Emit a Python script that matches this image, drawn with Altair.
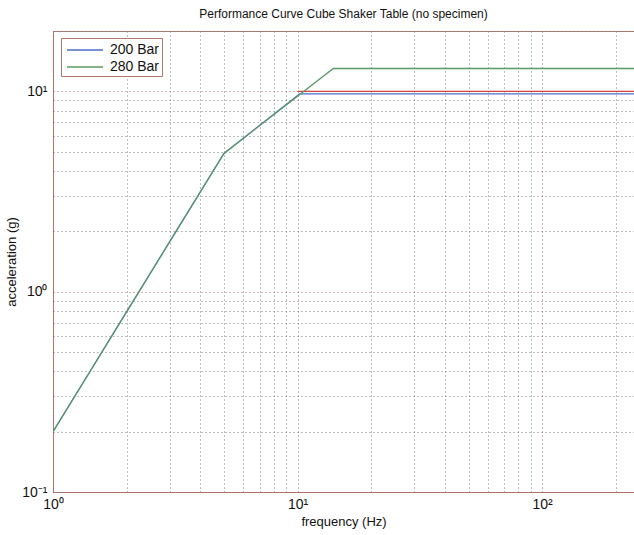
import altair as alt
import pandas as pd

# Data
freq_200 = [1, 5, 10.2, 237.5]
acc_200 = [0.2, 4.9, 9.7, 9.7]
freq_280 = [1, 5, 14, 237.5]
acc_280 = [0.2, 4.9, 13.0, 13.0]
ref_freq = [10, 237.5]
ref_acc = [10, 10]

series_names = ["200 Bar", "280 Bar"]
colors = ["#4a6ec8", "#5a9a62"]

x_grid = [1, 2, 3, 4, 5, 6, 7, 8, 9, 10, 20, 30, 40, 50, 60, 70, 80, 90, 100, 200]
y_grid = [0.1, 0.2, 0.3, 0.4, 0.5, 0.6, 0.7, 0.8, 0.9, 1, 2, 3, 4, 5, 6, 7, 8, 9, 10, 20]

df = pd.DataFrame({
    "freq": freq_200 + freq_280,
    "acc": acc_200 + acc_280,
    "series": [series_names[0]] * len(freq_200) + [series_names[1]] * len(freq_280),
})
ref_df = pd.DataFrame({"freq": ref_freq, "acc": ref_acc})

FONT = "Liberation Sans"
major_test = "abs(log(datum.value)/LN10 - round(log(datum.value)/LN10)) < 0.000001"
label_expr = ("datum.value == 0.1 ? '10⁻¹' : datum.value == 1 ? '10⁰' : "
              "datum.value == 10 ? '10¹' : datum.value == 100 ? '10²' : ''")

x_scale = alt.Scale(type="log", domain=[1, 237.5], nice=False)
y_scale = alt.Scale(type="log", domain=[0.1, 20], nice=False)

grid_color = {"condition": {"test": major_test, "value": "#a06060"}, "value": "#7a7a7a"}

x_axis = alt.Axis(
    values=x_grid, labelExpr=label_expr, title="frequency (Hz)",
    grid=True, gridDash=[1, 3], gridWidth=1, gridColor=grid_color,
    ticks=False, domain=False, labelFont=FONT, labelFontSize=14, labelColor="#111",
    labelPadding=5, labelFlush=False, labelOverlap=False,
    titleFont=FONT, titleFontSize=13, titleFontWeight="normal", titleColor="#111",
    titlePadding=4,
)
y_axis = alt.Axis(
    values=y_grid, labelExpr=label_expr, title="acceleration (g)",
    grid=True, gridDash=[1, 3], gridWidth=1, gridColor=grid_color,
    ticks=False, domain=False, labelFont=FONT, labelFontSize=14, labelColor="#111",
    labelPadding=6, labelOverlap=False,
    titleFont=FONT, titleFontSize=13, titleFontWeight="normal", titleColor="#111",
    titlePadding=3,
)

lines = alt.Chart(df).mark_line(strokeWidth=1.3, clip=True).encode(
    x=alt.X("freq:Q", scale=x_scale, axis=x_axis),
    y=alt.Y("acc:Q", scale=y_scale, axis=y_axis),
    color=alt.Color(
        "series:N",
        scale=alt.Scale(domain=series_names, range=colors),
        legend=alt.Legend(
            title=None, orient="none", legendX=8, legendY=7,
            strokeColor="#b07a6a", fillColor="white", padding=2,
            symbolType="M-2,0H2", symbolStrokeWidth=1.5, symbolSize=324,
            symbolFillColor="transparent",
            labelFont=FONT, labelFontSize=14, labelColor="#111", rowPadding=0,
            symbolOffset=12, labelOffset=15,
        ),
    ),
)

ref_line = alt.Chart(ref_df).mark_line(strokeWidth=1.2, color="#d04040", clip=True).encode(
    x=alt.X("freq:Q", scale=x_scale),
    y=alt.Y("acc:Q", scale=y_scale),
)

chart = alt.layer(ref_line, lines).properties(
    width=581,
    height=461,
    autosize=alt.AutoSizeParams(type="none"),
    padding={"left": 53, "top": 31, "right": 0, "bottom": 43},
    title=alt.TitleParams(
        "Performance Curve Cube Shaker Table (no specimen)",
        font=FONT, fontSize=12, fontWeight="normal", color="#111",
        anchor="middle", offset=3,
    ),
    background="white",
).configure_view(stroke="#b87a6a", strokeWidth=1)

chart.save("out.html", embed_options={"renderer": "svg", "actions": False})
